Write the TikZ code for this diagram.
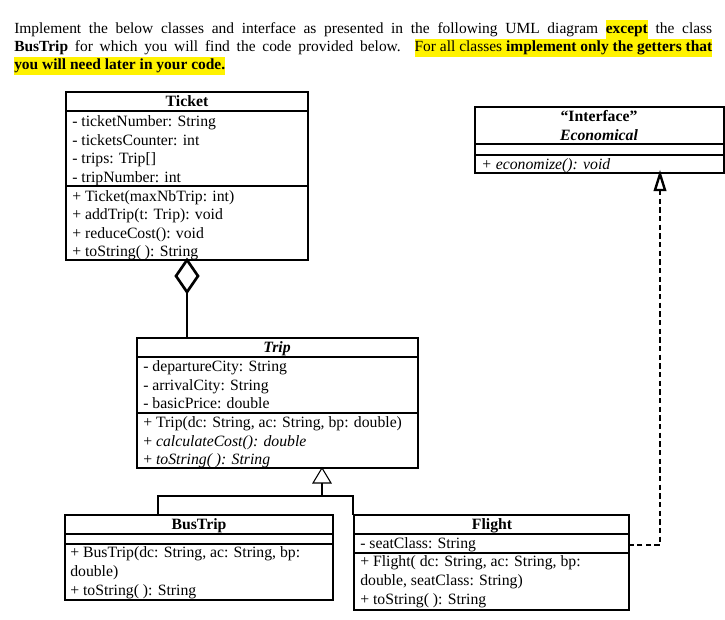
\documentclass[tikz,border=0pt]{standalone}
\usepackage{fontspec}
\setmainfont{Liberation Serif}
\usepackage{xcolor}
\newcommand{\hlt}[1]{{\setlength{\fboxsep}{0pt}\colorbox{yellow}{\strut #1}}}
\begin{document}
\begin{tikzpicture}[x=0.75pt,y=-0.75pt,
  box/.style={draw,line width=0.8pt},
  txt/.style={anchor=west,inner sep=0pt,text height=8pt,text depth=1.6pt,font=\fontsize{11.8}{13}\selectfont},
  hdr/.style={inner sep=0pt,text height=8pt,text depth=1.6pt,font=\fontsize{11.8}{13}\selectfont\bfseries},
  conn/.style={line width=0.8pt}]
\useasboundingbox (0,0) rectangle (725,619);
% paragraph
\node[anchor=north west,inner sep=0pt,align=left,font=\fontsize{11.6}{13.7}\selectfont] (para) at (14,20) {%
\makebox[523.5pt][s]{Implement the below classes and interface as presented in the following UML diagram \hlt{\textbf{except}} the class}\\
\makebox[523.5pt][s]{\textbf{BusTrip} for which you will find the code provided below. \hlt{For all classes \textbf{implement only the getters that}}}\\
\hlt{\textbf{you will need later in your code.}}};
% Ticket
\draw[box] (66,92) rectangle (308,260);
\draw[box] (66,111) -- (308,111) (66,186) -- (308,186);
\node[hdr] (ticket) at (187,102) {Ticket};
\node[txt] at (72,122) {- ticketNumber: String};
\node[txt] at (72,141) {- ticketsCounter: int};
\node[txt] at (72,159) {- trips: Trip[]};
\node[txt] at (72,178) {- tripNumber: int};
\node[txt] at (72,197) {+ Ticket(maxNbTrip: int)};
\node[txt] at (72,215) {+ addTrip(t: Trip): void};
\node[txt] at (72,234) {+ reduceCost(): void};
\node[txt] at (72,252) {+ toString( ): String};
% Interface
\draw[box] (475,107) rectangle (724,173);
\draw[box] (475,144) -- (724,144) (475,155) -- (724,155);
\node[hdr] (iface) at (599,117) {“Interface”};
\node[hdr,font=\fontsize{11.8}{13}\selectfont\bfseries\itshape] at (599,136) {Economical};
\node[txt,font=\fontsize{11.8}{13}\selectfont\itshape] at (481,165) {+ economize(): void};
% Trip
\draw[box] (137,338) rectangle (418,468);
\draw[box] (137,357) -- (418,357) (137,413) -- (418,413);
\node[hdr,font=\fontsize{11.8}{13}\selectfont\bfseries\itshape] (trip) at (277,348) {Trip};
\node[txt] at (143,367) {- departureCity: String};
\node[txt] at (143,386) {- arrivalCity: String};
\node[txt] at (143,404) {- basicPrice: double};
\node[txt] at (143,423) {+ Trip(dc: String, ac: String, bp: double)};
\node[txt] at (143,442) {+ \textit{calculateCost(): double}};
\node[txt] at (143,460) {+ \textit{toString( ): String}};
% BusTrip
\draw[box] (65,515) rectangle (333,600);
\draw[box] (65,534) -- (333,534) (65,544) -- (333,544);
\node[hdr] (bustrip) at (199,525) {BusTrip};
\node[txt] at (70,553) {+ BusTrip(dc: String, ac: String, bp:};
\node[txt] at (70,572) {double)};
\node[txt] at (70,591) {+ toString( ): String};
% Flight
\draw[box] (354,515) rectangle (629,610);
\draw[box] (354,534) -- (629,534) (354,553) -- (629,553);
\node[hdr] (flight) at (492,525) {Flight};
\node[txt] at (360,544) {- seatClass: String};
\node[txt] at (360,562) {+ Flight( dc: String, ac: String, bp:};
\node[txt] at (360,581) {double, seatClass: String)};
\node[txt] at (360,600) {+ toString( ): String};
% aggregation diamond
\coordinate (dtop) at (187,260);
\coordinate (dbot) at (187,292);
\draw[line width=2pt,line join=miter] (dtop) -- (198,276) -- (dbot) -- (176,276) -- cycle;
\coordinate (triptop) at (187,338);
\draw[conn] (dbot) -- (triptop);
% inheritance
\coordinate (ihead) at (322,468);
\coordinate (ibase) at (322,483);
\draw[conn,fill=white] (ihead) -- (331,483) -- (313,483) -- cycle;
\coordinate (ij) at (322,496);
\draw[conn] (ibase) -- (ij);
\draw[conn] (158,515) -- (158,496) -- (353,496) -- (353,515);
% realization
\coordinate (rhead) at (660,174);
\draw[line width=1.8pt,fill=white,line join=miter] (rhead) -- (665,190) -- (655,190) -- cycle;
\draw[conn,dash pattern=on 4pt off 2.5pt] (660,190) -- (660,545) -- (630,545);
\end{tikzpicture}
\end{document}
